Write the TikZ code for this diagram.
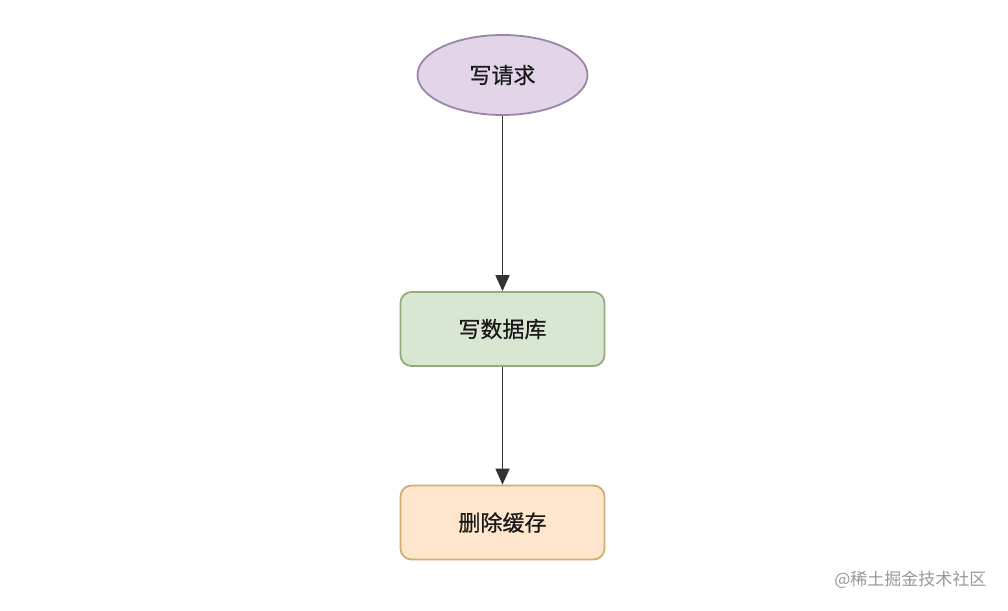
\documentclass[tikz,border=0pt]{standalone}
\usepackage{fontspec}
\setmainfont{Noto Sans CJK SC}
\newfontfamily\lblfont[FakeBold=0.6]{Noto Sans CJK SC}
\usetikzlibrary{shapes.geometric,arrows.meta}
\definecolor{pfill}{HTML}{E1D5E7}
\definecolor{pdraw}{HTML}{9C84AA}
\definecolor{gfill}{HTML}{D8E6D2}
\definecolor{gdraw}{HTML}{92AD7C}
\definecolor{ofill}{HTML}{FDE6CB}
\definecolor{odraw}{HTML}{CFAE6E}
\definecolor{arr}{HTML}{333333}
\begin{document}
\begin{tikzpicture}[x=1pt,y=-1pt,
  lbl/.style={font=\lblfont\fontsize{22}{26}\selectfont, text=black!90},
  stepbox/.style={rectangle, rounded corners=11pt, minimum width=204pt, minimum height=74pt, line width=1.8pt, inner sep=0pt, lbl},
  conn/.style={draw=arr, line width=1.8pt, -{Triangle[length=16pt,width=14pt]}}]
\useasboundingbox (0,0) rectangle (1008,610);
\fill[white] (0,0) rectangle (1008,610);
\node[ellipse, draw=pdraw, fill=pfill, line width=1.8pt, minimum width=170pt, minimum height=80pt, inner sep=0pt, lbl] (req) at (502.5,75) {写请求};
\node[stepbox, draw=gdraw, fill=gfill] (db) at (502.5,329) {写数据库};
\node[stepbox, draw=odraw, fill=ofill] (del) at (502.5,522.5) {删除缓存};
\draw[conn] (req.south) -- (db.north);
\draw[conn] (db.south) -- (del.north);
\node[font=\fontsize{17}{20}\selectfont, text=black!40, anchor=east] (wm) at (990,580) {@稀土掘金技术社区};
\end{tikzpicture}
\end{document}
